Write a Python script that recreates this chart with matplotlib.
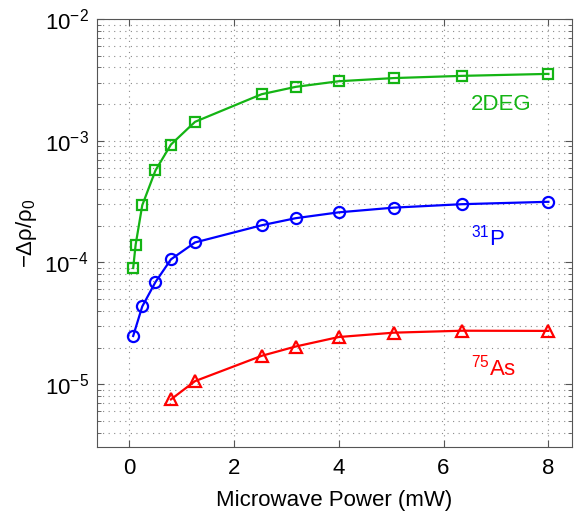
import numpy as np
import matplotlib
matplotlib.use("Agg")
import matplotlib.pyplot as plt

plt.rcParams['font.family'] = ['Liberation Sans', 'DejaVu Sans']
plt.rcParams['mathtext.fontset'] = 'custom'
plt.rcParams['mathtext.rm'] = 'Liberation Sans'
plt.rcParams['mathtext.it'] = 'Liberation Sans'
plt.rcParams['mathtext.bf'] = 'Liberation Sans:bold'

# microwave power (mW) for each series
power_2deg = [0.08, 0.127, 0.253, 0.505, 0.8, 1.26, 2.53, 3.18, 4.0, 5.05, 6.35, 8.0]
power_p = [0.08, 0.253, 0.505, 0.8, 1.26, 2.53, 3.18, 4.0, 5.05, 6.35, 8.0]
power_as = [0.8, 1.26, 2.53, 3.18, 4.0, 5.05, 6.35, 8.0]

# -drho/rho0 values
signal_2deg = [9.0e-5, 1.40e-4, 2.95e-4, 5.7e-4, 9.3e-4, 1.43e-3, 2.41e-3,
               2.77e-3, 3.08e-3, 3.27e-3, 3.41e-3, 3.54e-3]
signal_p = [2.49e-5, 4.35e-5, 6.9e-5, 1.06e-4, 1.46e-4, 2.02e-4, 2.31e-4,
            2.58e-4, 2.82e-4, 3.01e-4, 3.15e-4]
signal_as = [7.5e-6, 1.06e-5, 1.71e-5, 2.04e-5, 2.44e-5, 2.65e-5, 2.75e-5, 2.74e-5]

green = '#14b414'
blue = '#0000ff'
red = '#ff0000'

fig = plt.figure(figsize=(5.74, 5.13), dpi=100)
ax = fig.add_axes([0.169, 0.1287, 0.8275, 0.8343])

ax.semilogy(power_2deg, signal_2deg, '-s', color=green, lw=1.6, ms=7.5,
            mfc='none', mec=green, mew=1.6)
ax.semilogy(power_p, signal_p, '-o', color=blue, lw=1.6, ms=8,
            mfc='none', mec=blue, mew=1.6)
ax.semilogy(power_as, signal_as, '-^', color=red, lw=1.6, ms=9,
            mfc='none', mec=red, mew=1.6)

ax.text(7.1, 1.97e-3, '2DEG', color=green, fontsize=16, ha='center', va='center')
ax.text(6.85, 1.6e-4, r'$^{31}$P', color=blue, fontsize=16, ha='center', va='center')
ax.text(6.95, 1.38e-5, r'$^{75}$As', color=red, fontsize=16, ha='center', va='center')

ax.set_xlim(-0.61, 8.45)
ax.set_ylim(3.05e-6, 1e-2)
ax.set_xticks([0, 2, 4, 6, 8])

grid_style = dict(linestyle=(0, (1, 4)), color='#8a8a8a', lw=0.8)
ax.grid(True, which='major', axis='x', **grid_style)
ax.grid(True, which='both', axis='y', **grid_style)

ax.tick_params(which='both', direction='in', top=True, right=True, labelsize=16,
               color='#555555')
ax.tick_params(which='major', length=5)
ax.tick_params(which='minor', length=3)
ax.tick_params(axis='x', pad=8)
ax.tick_params(axis='y', pad=6)
for s in ax.spines.values():
    s.set_color('#555555')

ax.set_xlabel('Microwave Power (mW)', fontsize=16, labelpad=8)
ax.set_ylabel(r'$-\Delta\rho/\rho_0$', fontsize=16)

fig.savefig('out.png', dpi=100)
